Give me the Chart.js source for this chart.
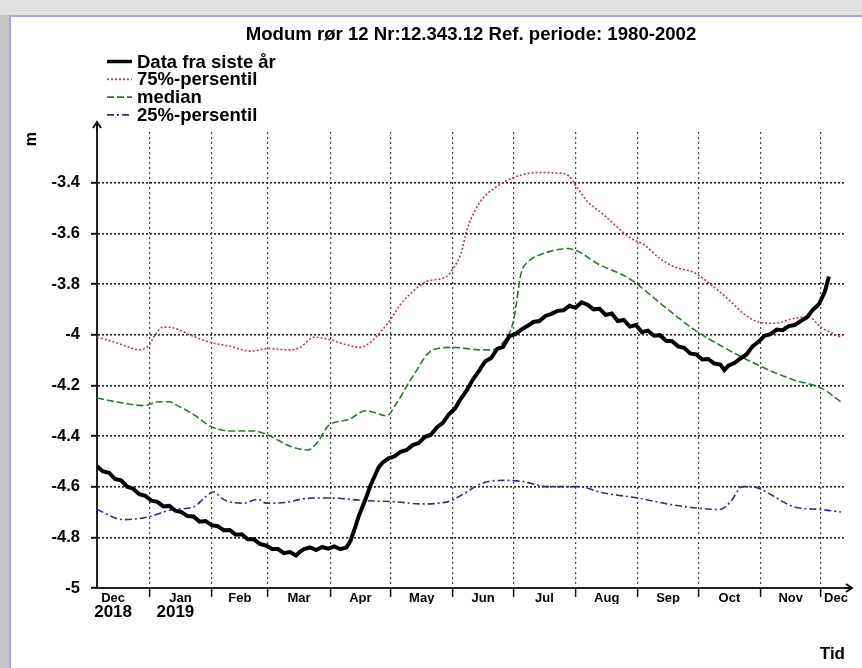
<!DOCTYPE html>
<html>
<head>
<meta charset="utf-8">
<script src="https://cdn.jsdelivr.net/npm/chart.js@4.4.1/dist/chart.umd.min.js"></script>
<style>
html,body{margin:0;padding:0;width:862px;height:668px;overflow:hidden;background:#c6c6c6;}
#topbar{position:absolute;left:0;top:0;width:862px;height:15px;background:#e0e0e0;}
#card{position:absolute;left:9px;top:15px;width:853px;height:653px;background:#fff;border-left:2px solid #a6a6e4;border-top:2px solid #a6a6e4;box-sizing:border-box;}
#wrap{position:absolute;left:0;top:0;width:862px;height:668px;}
</style>
</head>
<body>
<div id="topbar"></div>
<div id="card"></div>
<div id="wrap"><canvas id="c" width="862" height="668"></canvas></div>
<script>
// x values are days counted from 1 Jan 2019 (negative = Dec 2018)
const titleText = 'Modum rør 12 Nr:12.343.12 Ref. periode: 1980-2002';

const dataDays = [-26,-23,-20,-17,-14,-11,-8,-5,-2,1,4,7,10,13,16,19,22,25,28,31,34,37,40,43,46,49,52,55,58,61,64,67,70,73,75,77,80,83,86,89,92,95,98,100,102,104,106,108,110,112,114,116,119,122,125,128,131,134,137,140,143,146,149,152,155,158,161,164,167,170,173,176,179,182,185,188,191,194,197,200,203,206,209,212,215,218,221,224,227,230,233,236,239,242,245,248,251,254,257,260,263,266,269,272,275,278,281,284,286,288,291,294,297,300,303,306,309,312,315,318,321,324,327,330,333,336,338];
const dataValues = [-4.520,-4.540,-4.545,-4.570,-4.575,-4.600,-4.608,-4.630,-4.636,-4.655,-4.660,-4.678,-4.676,-4.695,-4.700,-4.716,-4.718,-4.738,-4.736,-4.752,-4.756,-4.772,-4.771,-4.790,-4.788,-4.808,-4.808,-4.826,-4.832,-4.846,-4.846,-4.862,-4.858,-4.872,-4.856,-4.846,-4.840,-4.850,-4.838,-4.845,-4.836,-4.847,-4.840,-4.815,-4.770,-4.720,-4.680,-4.640,-4.595,-4.560,-4.525,-4.505,-4.488,-4.480,-4.462,-4.455,-4.436,-4.428,-4.404,-4.395,-4.366,-4.348,-4.314,-4.292,-4.252,-4.218,-4.176,-4.143,-4.106,-4.092,-4.056,-4.048,-4.006,-3.998,-3.980,-3.966,-3.950,-3.946,-3.926,-3.918,-3.906,-3.904,-3.886,-3.894,-3.872,-3.882,-3.900,-3.898,-3.922,-3.916,-3.946,-3.942,-3.968,-3.962,-3.990,-3.984,-4.004,-4.002,-4.024,-4.026,-4.046,-4.052,-4.074,-4.078,-4.098,-4.096,-4.114,-4.118,-4.140,-4.122,-4.112,-4.094,-4.078,-4.046,-4.028,-4.004,-3.998,-3.980,-3.982,-3.966,-3.962,-3.946,-3.932,-3.902,-3.880,-3.830,-3.770];

const p75Days = [-26,-17,-10,-5,0,3,7,13,20,30,40,50,59,70,75,82,90,98,105,110,115,120,125,131,138,148,151,155,158,162,166,172,181,193,204,209,212,218,225,232,239,246,254,262,271,279,288,296,303,311,321,328,334,344];
const p75Values = [-4.01,-4.03,-4.05,-4.06,-4.04,-4.00,-3.97,-3.975,-4.00,-4.03,-4.045,-4.065,-4.055,-4.06,-4.05,-4.01,-4.02,-4.04,-4.05,-4.03,-3.99,-3.94,-3.88,-3.83,-3.79,-3.77,-3.74,-3.68,-3.585,-3.51,-3.46,-3.42,-3.38,-3.36,-3.362,-3.375,-3.41,-3.475,-3.52,-3.57,-3.617,-3.645,-3.70,-3.735,-3.755,-3.80,-3.86,-3.92,-3.95,-3.955,-3.935,-3.93,-3.97,-4.01];

const medianDays = [-26,-13,-3,5,10,14,23,30,40,52,60,70,79,84,89,99,108,118,123,131,141,151,165,170,176,181,185,188,196,208,213,223,239,254,271,288,304,321,334,344];
const medianValues = [-4.25,-4.27,-4.28,-4.265,-4.265,-4.28,-4.32,-4.36,-4.38,-4.38,-4.40,-4.44,-4.455,-4.42,-4.36,-4.335,-4.30,-4.32,-4.27,-4.165,-4.06,-4.05,-4.06,-4.06,-4.03,-3.95,-3.755,-3.715,-3.68,-3.66,-3.67,-3.72,-3.78,-3.875,-3.98,-4.06,-4.125,-4.18,-4.21,-4.265];

const p25Days = [-26,-13,-1,12,22,28,32,36,40,47,54,58,62,70,75,82,90,107,123,135,148,156,160,166,176,186,198,213,226,243,259,273,284,289,295,300,304,321,334,344];
const p25Values = [-4.69,-4.73,-4.72,-4.69,-4.68,-4.64,-4.62,-4.645,-4.66,-4.665,-4.65,-4.665,-4.665,-4.66,-4.65,-4.645,-4.645,-4.655,-4.66,-4.668,-4.66,-4.63,-4.61,-4.585,-4.575,-4.58,-4.60,-4.60,-4.625,-4.645,-4.67,-4.685,-4.69,-4.66,-4.60,-4.60,-4.61,-4.68,-4.69,-4.70];

const seriesLabels = ['Data fra siste år','75%-persentil','median','25%-persentil'];

const monthBoundaries = [0,31,59,90,120,151,181,212,243,273,304,334];
const monthLabelPos = [-18,15.5,45,74.5,105,135.5,166,196.5,227.5,258,288.5,319,341.5];
const monthLabels = ['Dec','Jan','Feb','Mar','Apr','May','Jun','Jul','Aug','Sep','Oct','Nov','Dec'];
const yearLabelPos = [-18,13];
const yearLabels = ['2018','2019'];
const yTicks = [-5,-4.8,-4.6,-4.4,-4.2,-4,-3.8,-3.6,-3.4,-3.2];
const yTickLabels = ['-5','-4.8','-4.6','-4.4','-4.2','-4','-3.8','-3.6','-3.4',''];

const X_MIN = -26, X_MAX = 346, Y_MIN = -5, Y_MAX = -3.2;
const FONT = '"Liberation Sans", Arial, Helvetica, sans-serif';

const pts = (xs, ys) => xs.map((x, i) => ({x, y: ys[i]}));

const deco = {
  id: 'deco',
  afterDraw(chart) {
    const {ctx, chartArea: a} = chart;
    ctx.save();
    ctx.strokeStyle = '#111';
    ctx.lineWidth = 2;
    ctx.setLineDash([]);
    // y axis arrow
    ctx.beginPath(); ctx.moveTo(a.left, a.top); ctx.lineTo(a.left, a.top - 9); ctx.stroke();
    ctx.beginPath(); ctx.moveTo(a.left - 4, a.top - 4); ctx.lineTo(a.left, a.top - 10); ctx.lineTo(a.left + 4, a.top - 4); ctx.stroke();
    // x axis arrow
    ctx.beginPath(); ctx.moveTo(a.right, a.bottom); ctx.lineTo(a.right + 6, a.bottom); ctx.stroke();
    ctx.beginPath(); ctx.moveTo(a.right + 1, a.bottom - 4); ctx.lineTo(a.right + 7, a.bottom); ctx.lineTo(a.right + 1, a.bottom + 4); ctx.stroke();
    // legend
    ctx.font = 'bold 18.5px ' + FONT;
    ctx.textBaseline = 'middle';
    ctx.textAlign = 'left';
    chart.data.datasets.forEach((ds, i) => {
      const y = 61.5 + i * 17.8;
      ctx.strokeStyle = ds.borderColor;
      ctx.lineWidth = i === 0 ? 3.5 : 1.8;
      ctx.setLineDash(ds.borderDash || []);
      ctx.beginPath(); ctx.moveTo(107, y); ctx.lineTo(132, y); ctx.stroke();
      ctx.setLineDash([]);
      ctx.fillStyle = '#000';
      ctx.fillText(ds.label, 137, y + 1);
    });
    ctx.restore();
  }
};

new Chart(document.getElementById('c'), {
  type: 'line',
  data: {
    datasets: [
      {label: seriesLabels[0], data: pts(dataDays, dataValues), borderColor: '#000', borderWidth: 4, pointRadius: 0, tension: 0, order: 0},
      {label: seriesLabels[1], data: pts(p75Days, p75Values), borderColor: '#cc3344', borderWidth: 1.6, borderDash: [2, 2], pointRadius: 0, cubicInterpolationMode: 'monotone', order: 1},
      {label: seriesLabels[2], data: pts(medianDays, medianValues), borderColor: '#2c7a2c', borderWidth: 1.6, borderDash: [7, 3], pointRadius: 0, cubicInterpolationMode: 'monotone', order: 1},
      {label: seriesLabels[3], data: pts(p25Days, p25Values), borderColor: '#2a2a9a', borderWidth: 1.6, borderDash: [7, 3, 2, 3], pointRadius: 0, cubicInterpolationMode: 'monotone', order: 1}
    ]
  },
  options: {
    responsive: false,
    animation: false,
    events: [],
    layout: {padding: {left: 0, right: 17, top: 0, bottom: 0}},
    plugins: {
      legend: {display: false},
      tooltip: {enabled: false},
      title: {
        display: true, text: titleText, fullSize: false, color: '#000',
        font: {family: FONT, size: 18.6, weight: 'bold'},
        padding: {top: 24, bottom: 85.7}
      }
    },
    scales: {
      x: {
        type: 'linear', position: 'bottom', min: X_MIN, max: X_MAX,
        afterBuildTicks: s => { s.ticks = [...monthBoundaries, ...monthLabelPos].sort((p, q) => p - q).map(v => ({value: v})); },
        afterFit: s => { s.height = 16; },
        ticks: {
          autoSkip: false, maxRotation: 0, minRotation: 0, padding: -6, color: '#000',
          font: {family: FONT, size: 13, weight: 'bold'},
          callback: v => { const i = monthLabelPos.indexOf(v); return i >= 0 ? monthLabels[i] : ''; }
        },
        grid: {
          color: c => (c.tick && monthBoundaries.includes(c.tick.value)) ? '#444' : 'rgba(0,0,0,0)',
          tickColor: c => (c.tick && monthBoundaries.includes(c.tick.value)) ? '#111' : 'rgba(0,0,0,0)',
          lineWidth: 1.2, tickLength: 9, tickWidth: 1.5
        },
        border: {display: true, color: '#222', width: 2, dash: [2, 3]}
      },
      x2: {
        type: 'linear', position: 'bottom', min: X_MIN, max: X_MAX,
        afterBuildTicks: s => { s.ticks = yearLabelPos.map(v => ({value: v})); },
        afterFit: s => { s.height = 64; },
        ticks: {
          autoSkip: false, maxRotation: 0, minRotation: 0, padding: -2, color: '#000',
          font: {family: FONT, size: 17, weight: 'bold'},
          callback: (v, i) => yearLabels[i]
        },
        grid: {display: false, drawTicks: false},
        border: {display: false},
        title: {display: true, text: 'Tid', align: 'end', color: '#000', font: {family: FONT, size: 17, weight: 'bold'}, padding: {top: 0, bottom: 3}}
      },
      y: {
        type: 'linear', min: Y_MIN, max: Y_MAX,
        afterBuildTicks: s => { s.ticks = yTicks.map(v => ({value: v})); },
        afterFit: s => { s.width = 97; },
        ticks: {
          padding: 11, color: '#000',
          font: {family: FONT, size: 16.5, weight: 'bold'},
          callback: (v, i) => yTickLabels[i]
        },
        grid: {
          color: c => (c.tick && c.tick.value > -3.3) ? 'rgba(0,0,0,0)' : '#222',
          tickColor: c => (c.tick && c.tick.value > -3.3) ? 'rgba(0,0,0,0)' : '#111',
          lineWidth: 1.6, tickLength: 6, tickWidth: 2
        },
        border: {display: true, color: '#222', width: 2, dash: [2, 2]},
        title: {display: true, text: 'm', align: 'end', color: '#000', font: {family: FONT, size: 16, weight: 'bold'}, padding: {top: 22, bottom: 0}}
      }
    }
  },
  plugins: [deco]
});
</script>
</body>
</html>
